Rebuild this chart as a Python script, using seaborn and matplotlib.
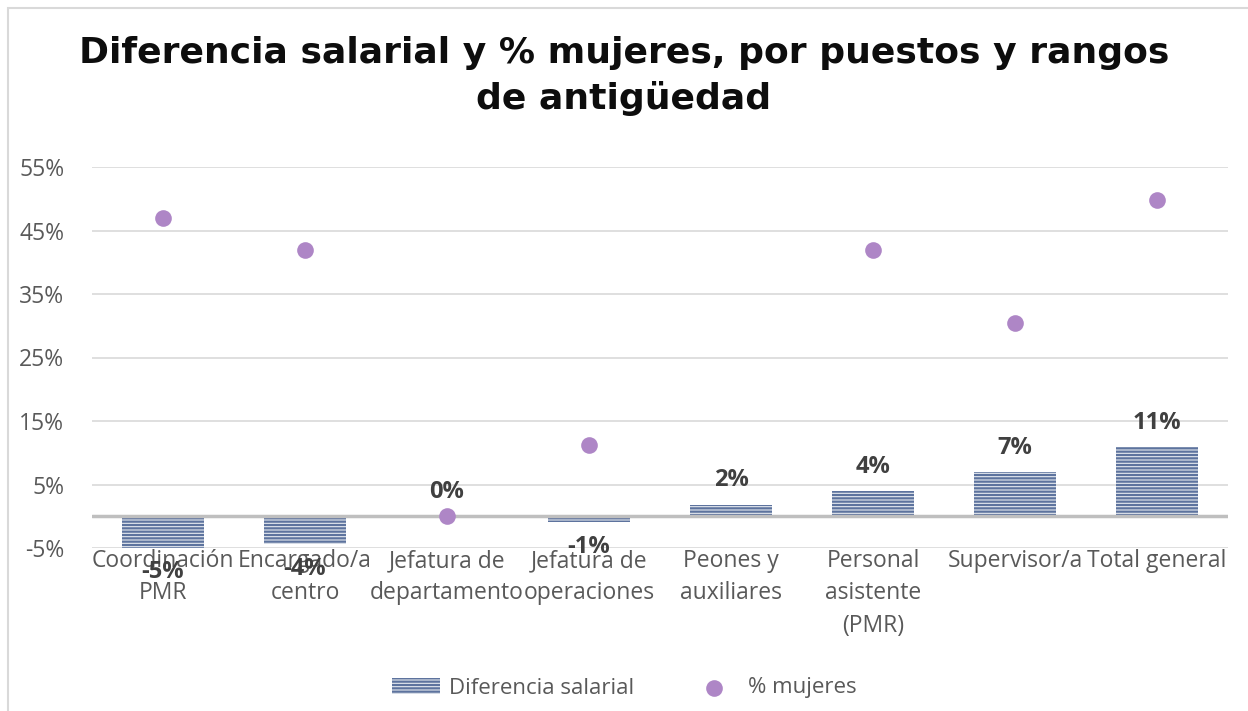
import numpy as np
import pandas as pd
import matplotlib
matplotlib.use("Agg")
import matplotlib.pyplot as plt
import seaborn as sns
from matplotlib.patches import Rectangle
from matplotlib.ticker import FixedLocator, FuncFormatter

# datos
puestos = ["Coordinación\nPMR", "Encargado/a\ncentro", "Jefatura de\ndepartamento",
           "Jefatura de\noperaciones", "Peones y\nauxiliares", "Personal\nasistente\n(PMR)",
           "Supervisor/a", "Total general"]
dif_salarial = [-0.050, -0.044, 0.0, -0.0095, 0.018, 0.039, 0.069, 0.109]
pct_mujeres = [0.47, 0.42, 0.0, 0.112, np.nan, 0.42, 0.304, 0.498]
yticks = [-0.05, 0.05, 0.15, 0.25, 0.35, 0.45, 0.55]

df = pd.DataFrame({"puesto": puestos, "dif": dif_salarial, "mujeres": pct_mujeres})

sns.set_style("white")
plt.rcParams["font.family"] = ["Open Sans", "DejaVu Sans"]
plt.rcParams["hatch.linewidth"] = 1.6

fig = plt.figure(figsize=(12.48, 7.11), dpi=100)
ax = fig.add_axes([92 / 1248, 1 - 548 / 711, (1228 - 92) / 1248, (548 - 167) / 711])

# marco del gráfico (solo se ven borde izquierdo y superior)
fig.add_artist(Rectangle((8 / 1248, -0.1), 1.2, 1 - 8 / 711 + 0.1, transform=fig.transFigure,
                         fill=False, edgecolor="#d9d9d9", linewidth=1.5))

ax.set_ylim(-0.05, 0.55)
ax.yaxis.set_major_locator(FixedLocator(yticks))
ax.yaxis.set_major_formatter(FuncFormatter(lambda v, p: f"{v * 100:.0f}%"))
ax.grid(axis="y", color="#d9d9d9", linewidth=1.2)
ax.set_axisbelow(True)

sns.barplot(data=df, x="puesto", y="dif", order=puestos, ax=ax, width=0.58,
            color="#e3e8f1", edgecolor="#5d739e", linewidth=0, hatch="-----",
            label="Diferencia salarial", zorder=2)
sns.stripplot(data=df, x="puesto", y="mujeres", order=puestos, ax=ax, jitter=False,
              color="#ae86c6", size=12, linewidth=0, zorder=3)

ax.axhline(0, color="#bfbfbf", linewidth=2.5, zorder=2.5)

ax.bar_label(ax.containers[0], labels=[f"{v:.0%}" for v in dif_salarial], padding=9,
             fontsize=17, fontweight="bold", color="#404040")

ax.set_xlim(-0.5, 7.5)
ax.set_xlabel("")
ax.set_ylabel("")
if ax.get_legend() is not None:
    ax.get_legend().remove()
sns.despine(ax=ax, left=True, bottom=True, top=True, right=True)
ax.tick_params(axis="both", length=0, labelsize=16.5, labelcolor="#595959")
ax.tick_params(axis="x", pad=1)
ax.tick_params(axis="y", pad=20)
for t in ax.get_xticklabels():
    t.set_linespacing(1.45)

fig.suptitle("Diferencia salarial y % mujeres, por puestos y rangos\nde antigüedad",
             x=0.5, y=0.95, fontsize=26, fontweight="bold", color="#0d0d0d",
             linespacing=1.4, family=["DejaVu Sans"])

bar_handle = ax.containers[0]
dot_handle = ax.collections[0]
fig.legend([bar_handle, dot_handle], ["Diferencia salarial", "% mujeres"], loc="center",
           bbox_to_anchor=(0.5, 1 - 688 / 711), ncol=2, frameon=False, fontsize=16,
           labelcolor="#595959", handlelength=2.2, columnspacing=2.5, handletextpad=0.4)

fig.savefig("out.png", dpi=100)
